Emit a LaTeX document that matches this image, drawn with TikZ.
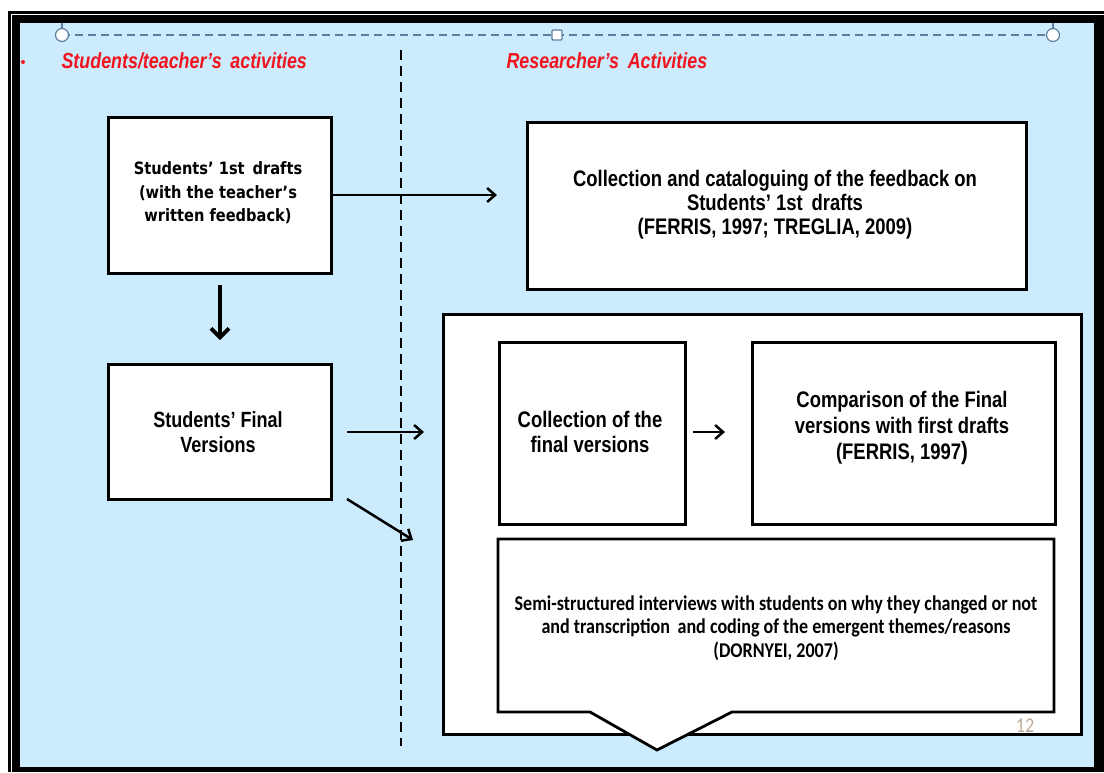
\documentclass[tikz,border=0pt]{standalone}
\usepackage{fontspec}
\setmainfont{Liberation Sans}
\newfontfamily\narfont[FakeStretch=0.82]{Liberation Sans}
\newfontfamily\tahfont[FakeStretch=0.86]{DejaVu Sans}
\newfontfamily\calfont[FakeStretch=0.86]{Carlito}
\usetikzlibrary{arrows.meta}
\definecolor{bgblue}{RGB}{204,235,252}
\definecolor{guide}{RGB}{95,125,160}
\definecolor{hdred}{RGB}{240,20,30}
\definecolor{pgnum}{RGB}{190,170,150}
\tikzset{
  box/.style={draw=black, line width=2.8pt, fill=white},
  lbl/.style={align=center, text=black, font=\narfont\bfseries\fontsize{22.5}{24}\selectfont},
  conn/.style={line width=2.5pt, -{Straight Barb[length=8pt,width=14pt,line width=2.5pt]}},
  hdr/.style={text=hdred, font=\narfont\bfseries\itshape\fontsize{21.8}{24}\selectfont, anchor=west},
  handle/.style={draw=guide, fill=white, line width=1.2pt}
}
\begin{document}
\begin{tikzpicture}[x=1pt,y=-1pt]
\useasboundingbox (0,0) rectangle (1104,772);
\fill[white] (0,0) rectangle (1104,772);
\fill[black] (8,11) rectangle (1104,772);
\draw[white, line width=1pt] (11,14) -- (11,772);
\draw[white, line width=1pt] (11,14) -- (1104,14);
\fill[bgblue] (20,23) rectangle (1094,767);
% selection guide
\draw[guide, line width=1.3pt, dash pattern=on 8pt off 5pt] (62,35) -- (1053,35);
\draw[guide, line width=1.2pt] (62,23) -- (62,30) (1053,23) -- (1053,30);
\node[handle, circle, minimum size=13pt, inner sep=0pt] (h1) at (62,35) {};
\node[handle, circle, minimum size=13pt, inner sep=0pt] (h3) at (1053,35) {};
\node[handle, rectangle, rounded corners=1pt, minimum size=10pt, inner sep=0pt] (h2) at (557,35) {};
% headers
\fill[hdred] (23,62) circle (2pt);
\node[hdr] (hl) at (58,61) {Students/teacher’s\, activities};
\node[hdr] (hr) at (503,61) {Researcher’s\, Activities};
% divider
\coordinate (dtop) at (401,50);
\coordinate (dbot) at (401,746);
\draw[line width=2.7pt, dash pattern=on 10pt off 6pt] (dtop) -- (dbot);
% left boxes
\node[box, minimum width=223pt, minimum height=156pt, anchor=north west] (A) at (107,116) {};
\node[align=center, font=\tahfont\bfseries\fontsize{17}{23.5}\selectfont] (At) at (218,193) {Students’ 1st\, drafts\\(with the teacher’s\\written feedback)};
\node[box, minimum width=223pt, minimum height=135pt, anchor=north west] (B) at (107,363) {};
\node[lbl, font=\narfont\bfseries\fontsize{22}{25}\selectfont] (Bt) at (218,432) {Students’ Final\\Versions};
% right boxes
\node[box, minimum width=499pt, minimum height=167pt, anchor=north west] (C) at (526,121) {};
\node[lbl] (Ct) at (775,205) {Collection and cataloguing of the feedback on\\Students’ 1st\, drafts\\(FERRIS, 1997; TREGLIA, 2009)};
\node[box, minimum width=638pt, minimum height=420pt, anchor=north west] (D) at (442,313) {};
\node[box, minimum width=186pt, minimum height=182pt, anchor=north west] (E) at (498,341) {};
\node[lbl, font=\narfont\bfseries\fontsize{22.5}{25}\selectfont] (Et) at (590,432) {Collection of the\\final versions};
\node[box, minimum width=303pt, minimum height=182pt, anchor=north west] (F) at (751,341) {};
\node[lbl, font=\narfont\bfseries\fontsize{22.5}{26}\selectfont] (Ft) at (902,428) {Comparison of the Final\\versions with first drafts\\(FERRIS, 1997{\fontsize{25}{26}\selectfont)}};
% callout box
\coordinate (G1) at (498,539);
\coordinate (G2) at (1054,539);
\coordinate (G3) at (1054,712);
\coordinate (G4) at (732,712);
\coordinate (Gtip) at (657,750);
\coordinate (G5) at (590,712);
\coordinate (G6) at (498,712);
\draw[box, line join=miter] (G1) -- (G2) -- (G3) -- (G4) -- (Gtip) -- (G5) -- (G6) -- cycle;
\node[align=center, font=\calfont\bfseries\fontsize{21}{23.5}\selectfont] (Gt) at (776,628) {Semi-structured interviews with students on why they changed or not\\and transcription\, and coding of the emergent themes/reasons\\(DORNYEI, 2007)};
\node[text=pgnum, font=\calfont\fontsize{21}{21}\selectfont] (pg) at (1025,726) {12};
% connectors
\coordinate (a1) at (330,195);
\coordinate (a2) at (497,195);
\draw[conn] (a1) -- (a2);
\coordinate (d1) at (220,285);
\coordinate (d2) at (220,340);
\draw[line width=3.8pt, -{Straight Barb[length=9pt,width=18pt,line width=3.8pt]}] (d1) -- (d2);
\coordinate (b1) at (347,432);
\coordinate (b2) at (424,432);
\draw[conn] (b1) -- (b2);
\coordinate (c1) at (347,499);
\coordinate (c2) at (413,540);
\draw[conn] (c1) -- (c2);
\coordinate (e1) at (693,432);
\coordinate (e2) at (725,432);
\draw[conn] (e1) -- (e2);
\end{tikzpicture}
\end{document}
